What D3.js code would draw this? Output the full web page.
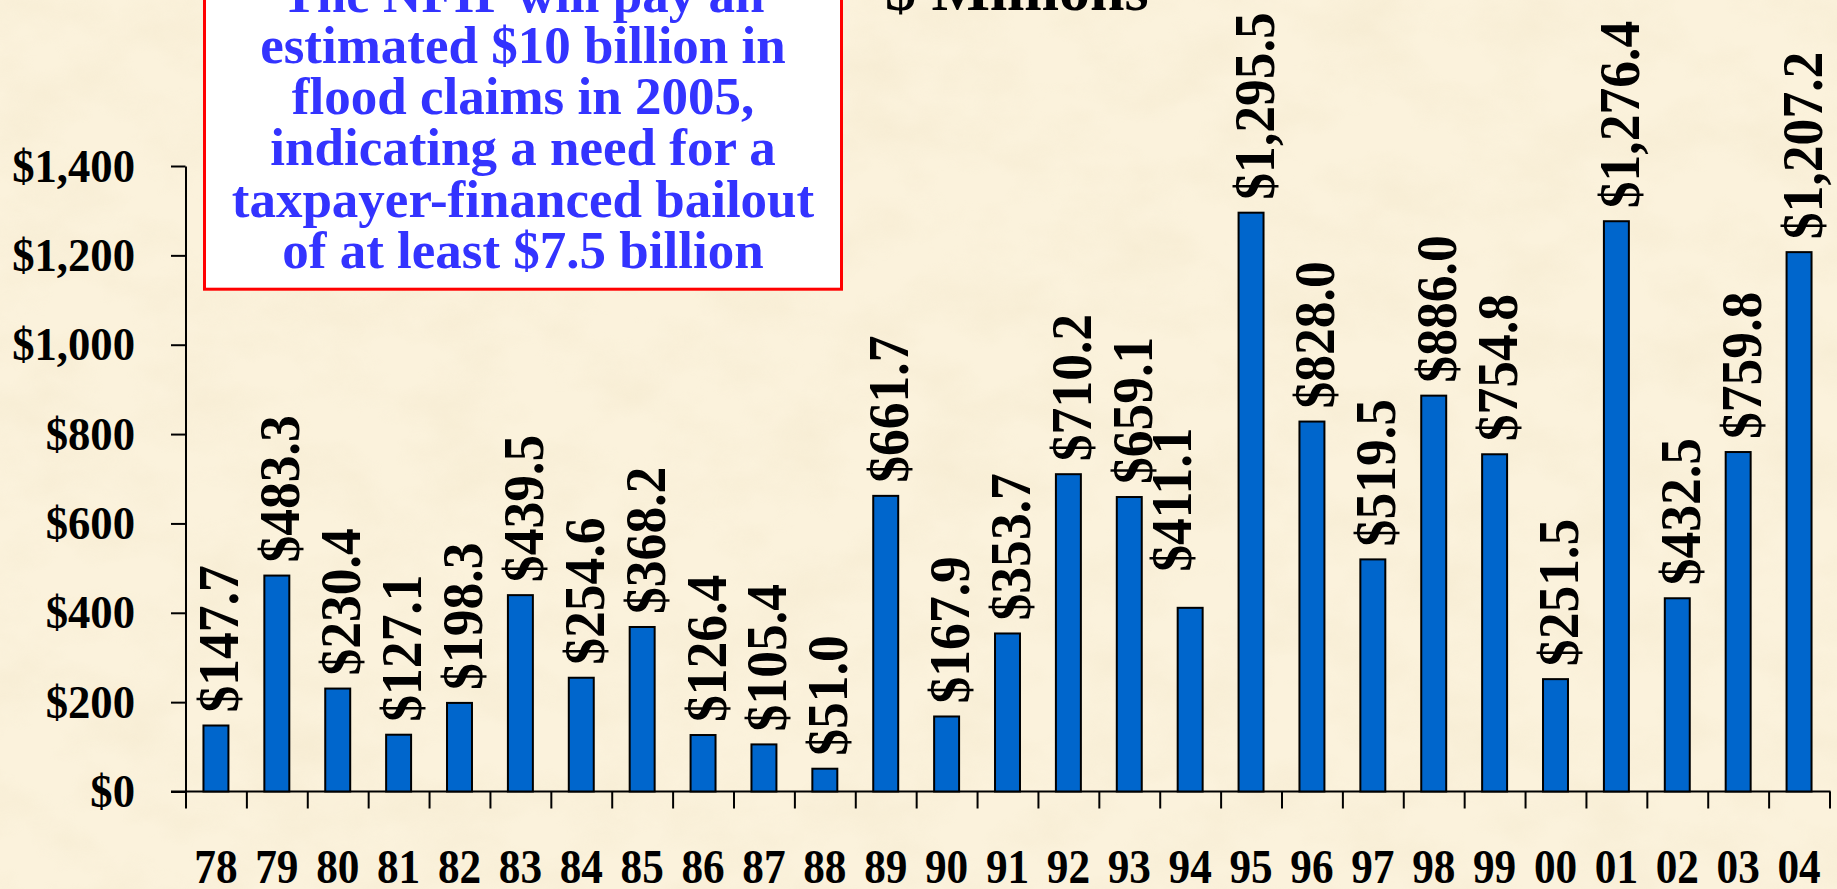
<!DOCTYPE html>
<html>
<head>
<meta charset="utf-8">
<script src="https://cdn.jsdelivr.net/npm/d3@7"></script>
<style>
  html, body { margin: 0; padding: 0; background: #FAF0D8; overflow: hidden; }
  svg { display: block; }
</style>
</head>
<body>
<svg id="chart" width="1837" height="889"></svg>
<script>
// NFIP flood claims paid by year, $ millions
const years = ["78","79","80","81","82","83","84","85","86","87","88","89","90","91","92","93","94","95","96","97","98","99","00","01","02","03","04"];
const claims = [147.7, 483.3, 230.4, 127.1, 198.3, 439.5, 254.6, 368.2, 126.4, 105.4, 51.0, 661.7, 167.9, 353.7, 710.2, 659.1, 411.1, 1295.5, 828.0, 519.5, 886.0, 754.8, 251.5, 1276.4, 432.5, 759.8, 1207.2];
const yTicks = [0, 200, 400, 600, 800, 1000, 1200, 1400];
const unitTitle = "$ Millions";
const noteLines = [
  "The NFIP will pay an",
  "estimated $10 billion in",
  "flood claims in 2005,",
  "indicating a need for a",
  "taxpayer-financed bailout",
  "of at least $7.5 billion"
];

const SERIF = "'Liberation Serif', 'Times New Roman', serif";
const svg = d3.select("#chart");

// squeeze a text horizontally along its writing direction
function condense(sel, k) {
  sel.each(function () {
    const w = this.getComputedTextLength();
    d3.select(this).attr("textLength", w * k).attr("lengthAdjust", "spacingAndGlyphs");
  });
}

// parchment background with a soft mottled texture
const defs = svg.append("defs");
const tex = defs.append("filter").attr("id", "parchment")
  .attr("x", 0).attr("y", 0).attr("width", "100%").attr("height", "100%");
tex.append("feTurbulence").attr("type", "fractalNoise")
  .attr("baseFrequency", "0.012 0.018").attr("numOctaves", 4).attr("seed", 7);
tex.append("feColorMatrix").attr("type", "matrix")
  .attr("values", "0 0 0 0 0.86  0 0 0 0 0.76  0 0 0 0 0.55  1.1 0 0 0 -0.42");
svg.append("rect").attr("width", 1837).attr("height", 889).attr("fill", "#FBF2DC");
svg.append("rect").attr("width", 1837).attr("height", 889)
  .attr("filter", "url(#parchment)").attr("opacity", 0.55);

// scales
const x = d3.scaleBand().domain(years).range([185.5, 1829.5]).padding(0);
const y = d3.scaleLinear().domain([0, 1400]).range([791.5, 166]);
const barW = x.bandwidth() * 0.41;

// y axis
const yAxis = svg.append("g").attr("transform", `translate(${x.range()[0]},0)`)
  .call(d3.axisLeft(y).tickValues(yTicks).tickSize(14.5).tickSizeOuter(0)
    .tickPadding(36).tickFormat(d3.format("$,")));
yAxis.select(".domain").attr("stroke", "#000").attr("stroke-width", 2);
yAxis.selectAll(".tick line").attr("stroke", "#000").attr("stroke-width", 2);
yAxis.selectAll(".tick text")
  .attr("font-family", SERIF).attr("font-weight", "bold").attr("font-size", 47)
  .attr("fill", "#000")
  .call(condense, 0.95);

// x axis: tick marks at category boundaries
const edge = d3.scaleLinear().domain([0, years.length]).range(x.range());
const xTicks = svg.append("g").attr("transform", `translate(0,${y(0)})`)
  .call(d3.axisBottom(edge).tickValues(d3.range(years.length + 1)).tickSize(17)
    .tickSizeOuter(0).tickFormat(""));
xTicks.select(".domain").remove();
xTicks.selectAll(".tick line").attr("stroke", "#000").attr("stroke-width", 2);

// x axis: year labels centred in each category
const xAxis = svg.append("g").attr("transform", `translate(0,${y(0)})`)
  .call(d3.axisBottom(x).tickSize(0).tickSizeOuter(0).tickPadding(57.5));
xAxis.select(".domain").remove();
xAxis.selectAll(".tick text")
  .attr("font-family", SERIF).attr("font-weight", "bold").attr("font-size", 48)
  .attr("fill", "#000")
  .call(condense, 0.9);

// baseline across the plot
svg.append("line")
  .attr("x1", 171).attr("x2", x.range()[1] + 1)
  .attr("y1", y(0)).attr("y2", y(0))
  .attr("stroke", "#000").attr("stroke-width", 2);

// bars
const rows = years.map((yr, i) => ({ yr, v: claims[i] }));
svg.append("g").selectAll("rect").data(rows).join("rect")
  .attr("x", d => x(d.yr) + (x.bandwidth() - barW) / 2)
  .attr("y", d => y(d.v))
  .attr("width", barW)
  .attr("height", d => y(0) - y(d.v))
  .attr("fill", "#0066CC")
  .attr("stroke", "#000").attr("stroke-width", 2);

// value labels, rotated above each bar (the 1994 label sits clear of its neighbour)
const labelShift = { "94": [-21.6, -23] };
const fmt = d3.format("$,.1f");
svg.append("g").selectAll("text").data(rows).join("text")
  .attr("transform", d => {
    const s = labelShift[d.yr] || [0, 0];
    const cx = x(d.yr) + x.bandwidth() / 2 + 22.5 + s[0];
    const cy = y(d.v) - 13 + s[1];
    return `translate(${cx},${cy}) rotate(-90)`;
  })
  .attr("font-family", SERIF).attr("font-weight", "bold").attr("font-size", 57)
  .attr("fill", "#000")
  .text(d => fmt(d.v))
  .call(condense, 0.94);

// units title
svg.append("text")
  .attr("x", 885).attr("y", 10)
  .attr("font-family", SERIF).attr("font-weight", "bold").attr("font-size", 62)
  .attr("fill", "#000")
  .text(unitTitle);

// call-out box
svg.append("rect")
  .attr("x", 204.5).attr("y", -40).attr("width", 637).attr("height", 329.2)
  .attr("fill", "#FFFFFF").attr("stroke", "#FF0000").attr("stroke-width", 3);
svg.append("g").selectAll("text").data(noteLines).join("text")
  .attr("x", 523).attr("y", (d, i) => 11.8 + i * 51.2)
  .attr("text-anchor", "middle")
  .attr("font-family", SERIF).attr("font-weight", "bold").attr("font-size", 53)
  .attr("fill", "#3333FF")
  .text(d => d);
</script>
</body>
</html>
